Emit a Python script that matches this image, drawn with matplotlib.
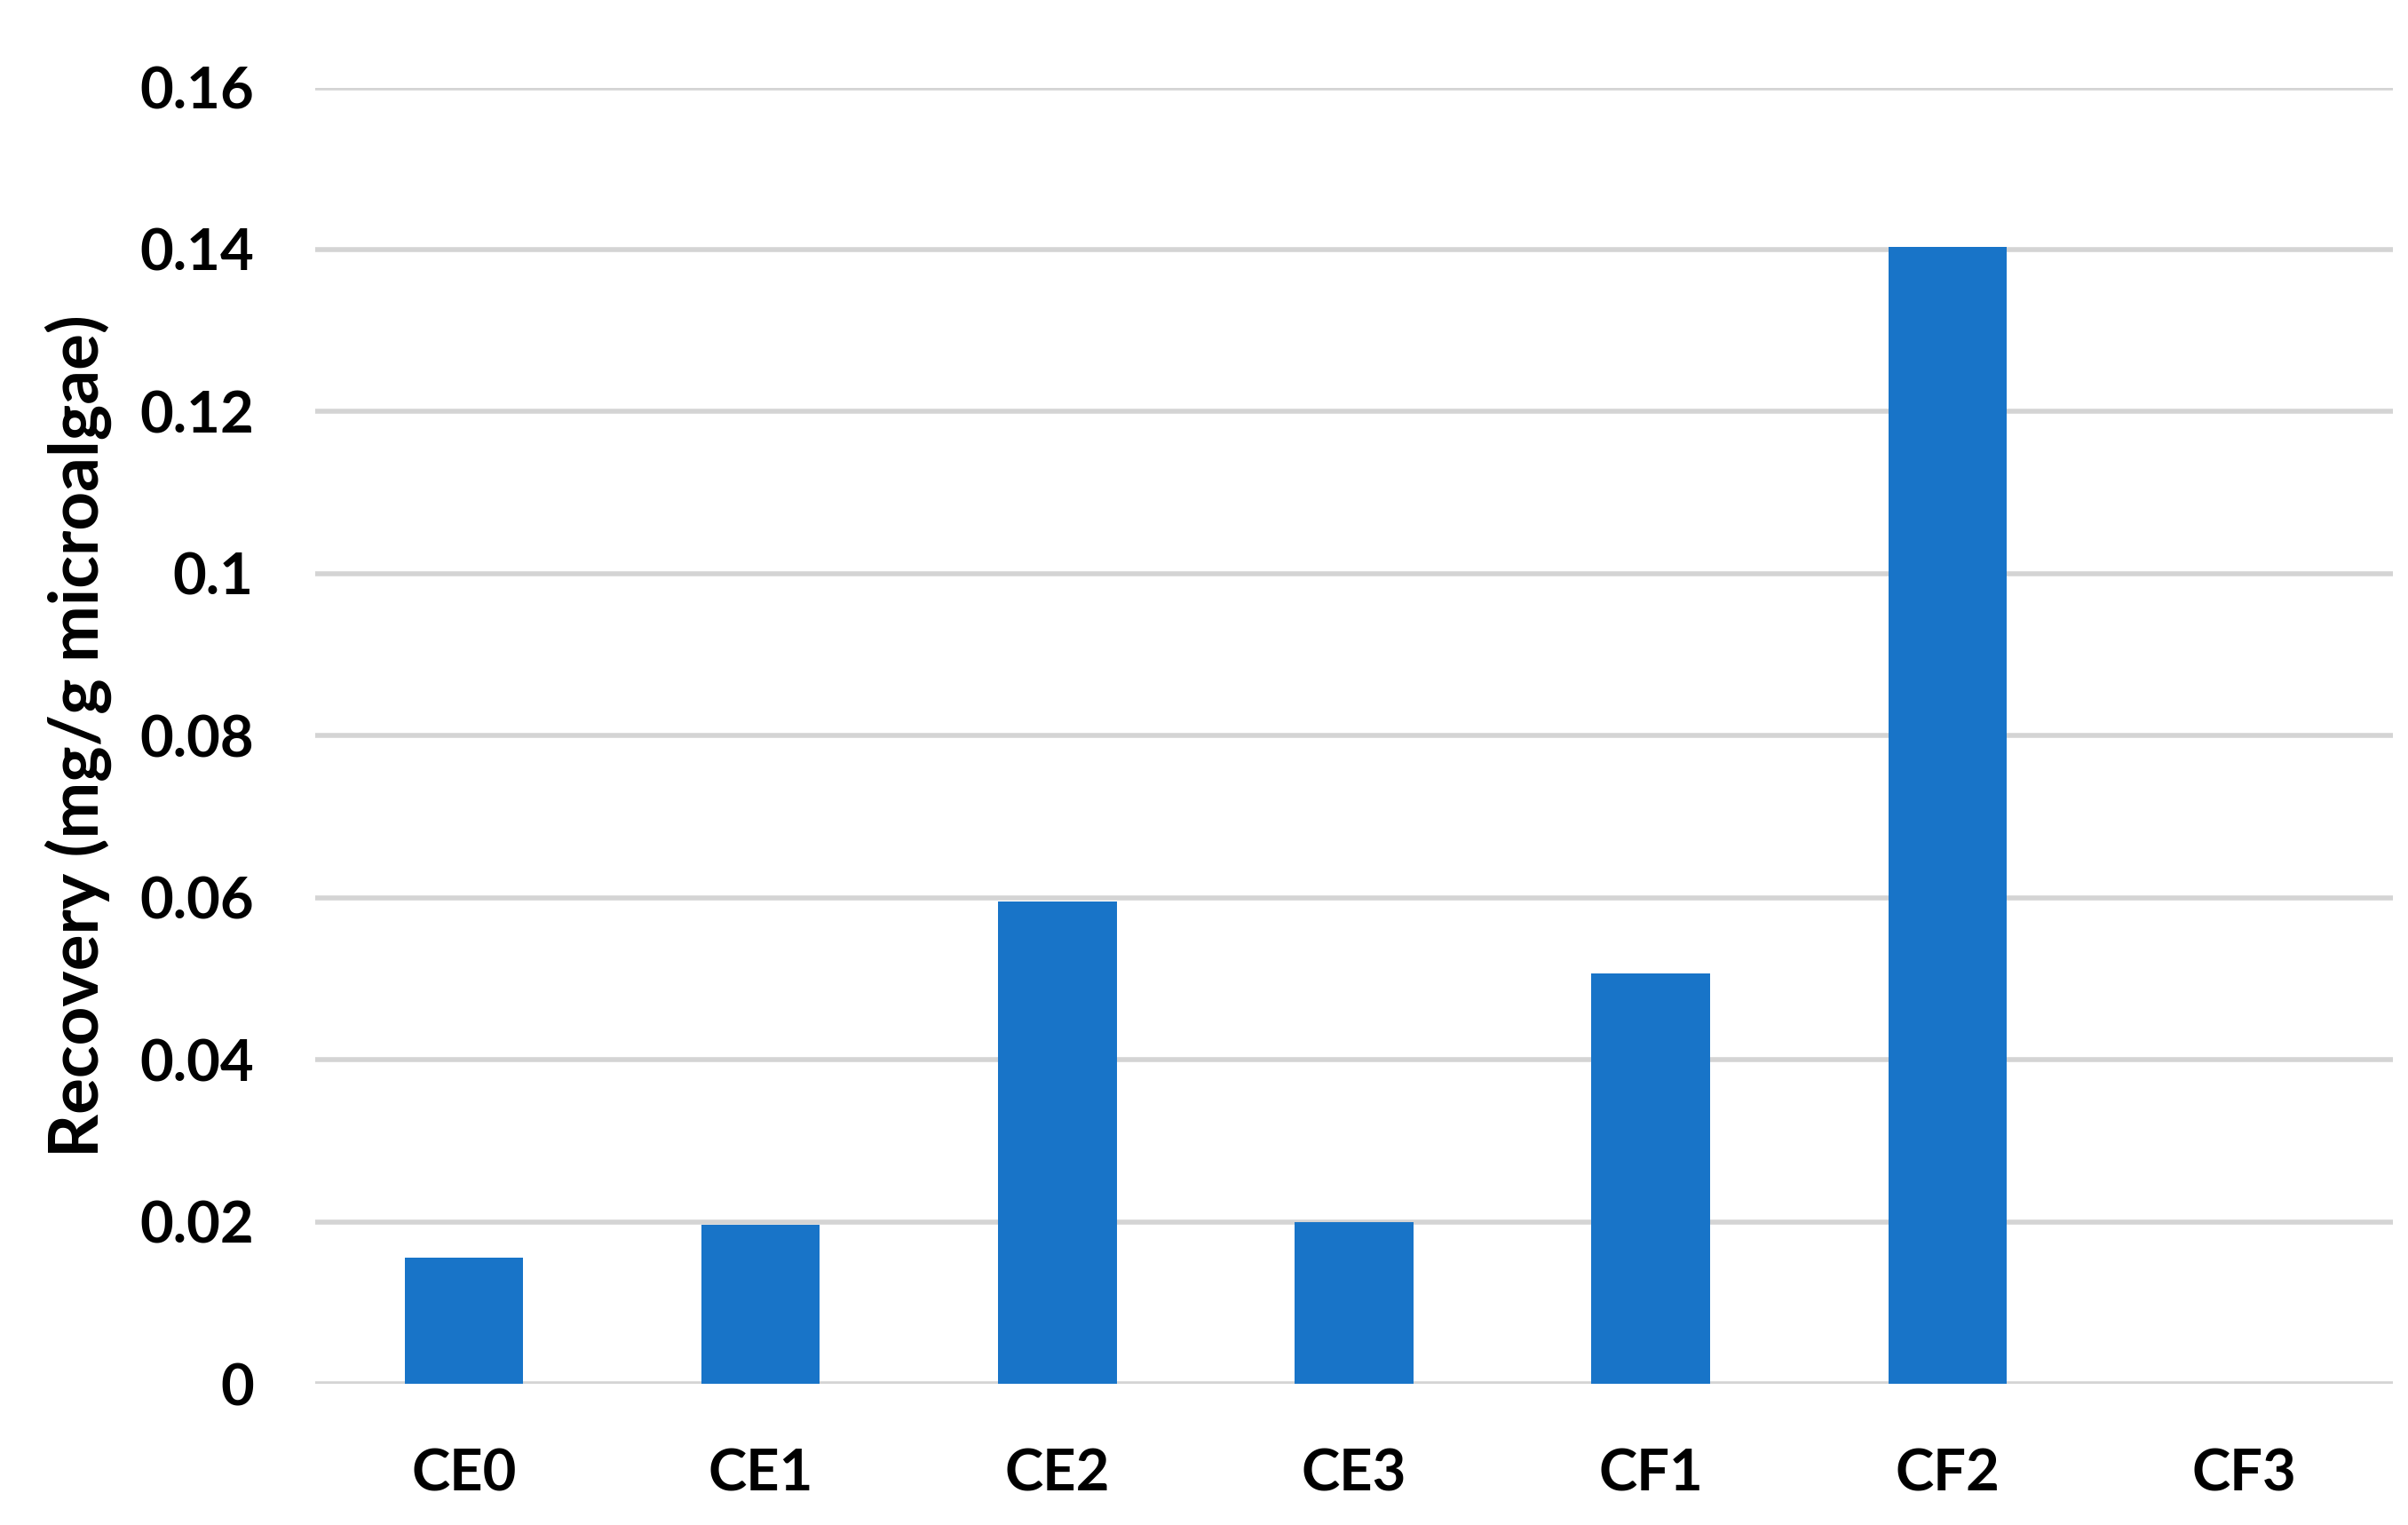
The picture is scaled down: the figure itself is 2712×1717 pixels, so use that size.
import matplotlib
matplotlib.use("Agg")
import matplotlib.pyplot as plt

# Recovery per sample (mg/g microalgae)
samples = ["CE0", "CE1", "CE2", "CE3", "CF1", "CF2", "CF3"]
recovery = [0.0156, 0.0196, 0.0595, 0.0199, 0.0506, 0.1403, 0.0]
y_ticks = [0, 0.02, 0.04, 0.06, 0.08, 0.1, 0.12, 0.14, 0.16]
y_tick_labels = ["0", "0.02", "0.04", "0.06", "0.08", "0.1", "0.12", "0.14", "0.16"]

plt.rcParams["font.family"] = ["Lato", "DejaVu Sans"]
plt.rcParams["font.weight"] = "bold"

fig = plt.figure(figsize=(27.12, 17.17), dpi=100)
ax = fig.add_axes([0.131, 0.0926, 0.8627, 0.85])

x = list(range(len(samples)))
ax.bar(x, recovery, width=0.4, color="#1874C8", zorder=3)

ax.set_xlim(-0.5, len(samples) - 0.5)
ax.set_ylim(0, 0.16)
ax.set_yticks(y_ticks)
ax.set_yticklabels(y_tick_labels)
ax.set_xticks(x)
ax.set_xticklabels(samples)

ax.grid(axis="y", color="#d4d4d4", lw=4, zorder=0)
ax.set_axisbelow(True)
for s in ax.spines.values():
    s.set_visible(False)
ax.tick_params(axis="both", length=0, labelsize=47)
ax.tick_params(axis="y", pad=50)
ax.tick_params(axis="x", pad=52)
for lbl in ax.get_xticklabels() + ax.get_yticklabels():
    lbl.set_fontweight("bold")

ax.set_ylabel("Recovery (mg/g microalgae)", fontsize=55, fontweight="bold", labelpad=22)

fig.savefig("out.png", dpi=100)
